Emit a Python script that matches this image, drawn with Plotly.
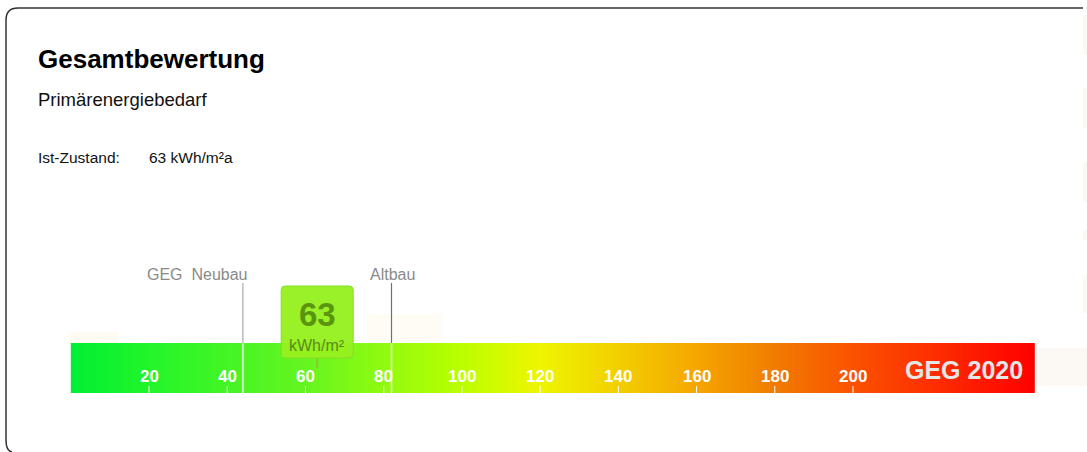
import numpy as np
import plotly.graph_objects as go

W, H = 1087, 452

# Scale and readings
scale_max = 246.5
tick_values = [20, 40, 60, 80, 100, 120, 140, 160, 180, 200]
tick_labels = ["20", "40", "60", "80", "100", "120", "140", "160", "180", "200"]
current_value = 63
current_unit = "kWh/m²"
neubau_limit = 44
altbau_limit = 82

title = "Gesamtbewertung"
subtitle = "Primärenergiebedarf"
status_label = "Ist-Zustand:"
status_value = "63 kWh/m²a"
scale_name = "GEG 2020"

# Colour ramp along the scale (value, colour)
ramp_values = [0, 20, 60, 100, 120, 140, 160, 180, 200, 246.5]
ramp_colors = ["#00ee33", "#22f52a", "#66f520", "#bbff00", "#eef500",
               "#f2cf00", "#f5a600", "#f07c00", "#fb5200", "#ff0000"]

# Pixel mapping of the value axis
x0_px = 70.8
px_per_unit = 3.911
x_range = [-x0_px / px_per_unit, (W - x0_px) / px_per_unit]

FONT = "Liberation Sans, Arial, sans-serif"

bar_top, bar_bot = 343, 393


def px(v):
    return v / W


fig = go.Figure()

# Gradient scale bar
n = 600
edges = np.linspace(0, scale_max, n + 1)
centers = (edges[:-1] + edges[1:]) / 2
colorscale = [[v / scale_max, c] for v, c in zip(ramp_values, ramp_colors)]
fig.add_trace(go.Heatmap(
    x=edges, y=[bar_top, bar_bot], z=[centers.tolist()],
    colorscale=colorscale, zmin=0, zmax=scale_max,
    showscale=False, hoverinfo="skip", zsmooth=False,
))

shapes = []
annotations = []

# Faint backing panels
shapes.append(dict(type="rect", xref="paper", yref="y", x0=px(70), x1=px(118),
                   y0=332, y1=343, fillcolor="#fffaf2", line=dict(width=0), layer="below"))
shapes.append(dict(type="rect", xref="paper", yref="y", x0=px(368), x1=px(442),
                   y0=314, y1=343, fillcolor="#fffbf5", line=dict(width=0), layer="below"))
shapes.append(dict(type="rect", xref="paper", yref="y", x0=px(1036), x1=1.0,
                   y0=348, y1=386, fillcolor="#fcf8f3", line=dict(width=0), layer="below"))
for ya, yb in [(15, 55), (88, 128), (162, 202), (230, 240), (275, 313)]:
    shapes.append(dict(type="rect", xref="paper", yref="y", x0=px(1083), x1=1.0,
                       y0=ya, y1=yb, fillcolor="#fcf8f3", line=dict(width=0), layer="below"))

# Tick marks and labels
for v, lab in zip(tick_values, tick_labels):
    shapes.append(dict(type="line", xref="x", yref="y", x0=v, x1=v, y0=386, y1=bar_bot,
                       line=dict(color="white", width=1)))
    annotations.append(dict(x=v, y=376, xref="x", yref="y", text=f"<b>{lab}</b>",
                            showarrow=False, font=dict(family=FONT, size=17, color="white"),
                            xanchor="center", yanchor="middle"))

# Reference limits
for v, col in [(neubau_limit, "#a8a8a8"), (altbau_limit, "#707070")]:
    shapes.append(dict(type="line", xref="x", yref="y", x0=v, x1=v, y0=283, y1=bar_top,
                       line=dict(color=col, width=1.2)))
    shapes.append(dict(type="line", xref="x", yref="y", x0=v, x1=v, y0=bar_top, y1=bar_bot,
                       line=dict(color="rgba(255,255,255,0.85)", width=1.5)))

annotations.append(dict(x=neubau_limit, y=274, xref="x", yref="y", text="GEG  Neubau",
                        showarrow=False, xanchor="right", yanchor="middle", xshift=7,
                        font=dict(family=FONT, size=16, color="#8a8a8a")))
annotations.append(dict(x=altbau_limit, y=274, xref="x", yref="y", text="Altbau",
                        showarrow=False, xanchor="left", yanchor="middle", xshift=-24,
                        font=dict(family=FONT, size=16, color="#8a8a8a")))

# Current value marker box
half_w = 36 / px_per_unit
bx0, bx1 = current_value - half_w, current_value + half_w
by0, by1 = 286, 358
rr = 4 / px_per_unit
ry = 4
box_path = (f"M {bx0 + rr},{by0} L {bx1 - rr},{by0} Q {bx1},{by0} {bx1},{by0 + ry} "
            f"L {bx1},{by1 - ry} Q {bx1},{by1} {bx1 - rr},{by1} L {bx0 + rr},{by1} "
            f"Q {bx0},{by1} {bx0},{by1 - ry} L {bx0},{by0 + ry} Q {bx0},{by0} {bx0 + rr},{by0} Z")
shapes.append(dict(type="line", xref="x", yref="y", x0=current_value, x1=current_value,
                   y0=by1, y1=368, line=dict(color="#86c83a", width=2)))
shapes.append(dict(type="path", xref="x", yref="y", path=box_path,
                   fillcolor="rgba(150,240,30,0.96)", line=dict(color="#86dc2a", width=1)))
annotations.append(dict(x=current_value, y=314, xref="x", yref="y", text=f"<b>{current_value}</b>",
                        showarrow=False, xanchor="center", yanchor="middle",
                        font=dict(family=FONT, size=33, color="#5a9410")))
annotations.append(dict(x=current_value, y=345, xref="x", yref="y", text=current_unit,
                        showarrow=False, xanchor="center", yanchor="middle",
                        font=dict(family=FONT, size=16, color="#5a8a1e")))

# Scale name
annotations.append(dict(x=px(1025), y=370, xref="paper", yref="y", text=f"<b>{scale_name}</b>",
                        showarrow=False, xanchor="right", yanchor="middle",
                        font=dict(family=FONT, size=25, color="#e6e6e6")))

# Header texts
annotations.append(dict(x=px(36), y=59, xref="paper", yref="y", text=f"<b>{title}</b>",
                        showarrow=False, xanchor="left", yanchor="middle",
                        font=dict(family=FONT, size=26, color="#000000")))
annotations.append(dict(x=px(36), y=99, xref="paper", yref="y", text=subtitle,
                        showarrow=False, xanchor="left", yanchor="middle",
                        font=dict(family=FONT, size=18.5, color="#111111")))
annotations.append(dict(x=px(36), y=157, xref="paper", yref="y", text=status_label,
                        showarrow=False, xanchor="left", yanchor="middle",
                        font=dict(family=FONT, size=15.5, color="#111111")))
annotations.append(dict(x=px(147), y=157, xref="paper", yref="y", text=status_value,
                        showarrow=False, xanchor="left", yanchor="middle",
                        font=dict(family=FONT, size=15.5, color="#111111")))

# Card outline (rounded corners, open to the right)
edge = dict(color="#333333", width=1.5)
shapes.extend([
    dict(type="line", xref="paper", yref="y", x0=px(18), x1=px(1083), y0=8, y1=8, line=edge),
    dict(type="line", xref="paper", yref="y", x0=px(6), x1=px(6), y0=20, y1=440, line=edge),
    dict(type="path", xref="paper", yref="y",
         path=f"M {px(6)},20 Q {px(6)},8 {px(18)},8", line=edge),
    dict(type="path", xref="paper", yref="y",
         path=f"M {px(6)},440 Q {px(6)},451 {px(12)},452", line=edge),
])

fig.update_layout(
    width=W, height=H,
    margin=dict(l=0, r=0, t=0, b=0),
    paper_bgcolor="white", plot_bgcolor="white",
    xaxis=dict(range=x_range, visible=False, fixedrange=True),
    yaxis=dict(range=[H, 0], visible=False, fixedrange=True),
    shapes=shapes, annotations=annotations,
    showlegend=False,
)

fig.write_html("out.html")
